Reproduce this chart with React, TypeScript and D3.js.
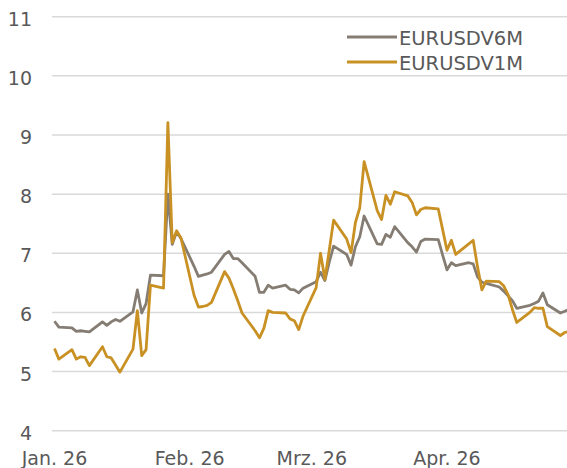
import React from "react";
import * as d3 from "d3";

const dates: string[] = [
  "2026-01-01","2026-01-02","2026-01-05","2026-01-06","2026-01-07","2026-01-08","2026-01-09",
  "2026-01-12","2026-01-13","2026-01-14","2026-01-15","2026-01-16",
  "2026-01-19","2026-01-20","2026-01-21","2026-01-22","2026-01-23",
  "2026-01-26","2026-01-27","2026-01-28","2026-01-29","2026-01-30",
  "2026-02-02","2026-02-03","2026-02-04","2026-02-05","2026-02-06",
  "2026-02-09","2026-02-10","2026-02-11","2026-02-12","2026-02-13",
  "2026-02-16","2026-02-17","2026-02-18","2026-02-19","2026-02-20",
  "2026-02-23","2026-02-24","2026-02-25","2026-02-26","2026-02-27",
  "2026-03-02","2026-03-03","2026-03-04","2026-03-05","2026-03-06",
  "2026-03-09","2026-03-10","2026-03-11","2026-03-12","2026-03-13",
  "2026-03-16","2026-03-17","2026-03-18","2026-03-19","2026-03-20",
  "2026-03-23","2026-03-24","2026-03-25","2026-03-26","2026-03-27",
  "2026-03-30","2026-03-31","2026-04-01","2026-04-02","2026-04-03",
  "2026-04-06","2026-04-07","2026-04-08","2026-04-09","2026-04-10",
  "2026-04-13","2026-04-14","2026-04-15","2026-04-16","2026-04-17",
  "2026-04-20","2026-04-21","2026-04-22","2026-04-23","2026-04-24",
  "2026-04-27","2026-04-28","2026-04-29",
];

const eurusdv6m: number[] = [
  5.85, 5.75, 5.74, 5.68, 5.69, 5.68, 5.67,
  5.84, 5.78, 5.84, 5.88, 5.85,
  6.01, 6.38, 5.99, 6.15, 6.63,
  6.62, 8.0, 7.15, 7.36, 7.25,
  6.78, 6.61, 6.63, 6.65, 6.68,
  6.98, 7.03, 6.91, 6.91, 6.84,
  6.61, 6.34, 6.34, 6.46, 6.41,
  6.46, 6.39, 6.38, 6.33, 6.41,
  6.52, 6.68, 6.54, 6.85, 7.12,
  6.98, 6.80, 7.11, 7.28, 7.63,
  7.16, 7.15, 7.32, 7.27, 7.45,
  7.18, 7.11, 7.02, 7.20, 7.24,
  7.23, 6.97, 6.72, 6.84, 6.79,
  6.84, 6.82, 6.60, 6.51, 6.49,
  6.43, 6.36, 6.28, 6.20, 6.07,
  6.12, 6.15, 6.19, 6.33, 6.13,
  5.99, 6.02, 6.05,
];

const eurusdv1m: number[] = [
  5.39, 5.21, 5.37, 5.21, 5.25, 5.24, 5.10,
  5.42, 5.25, 5.23, 5.11, 4.99,
  5.38, 6.03, 5.27, 5.37, 6.46,
  6.41, 9.21, 7.18, 7.38, 7.26,
  6.29, 6.09, 6.10, 6.12, 6.17,
  6.69, 6.58, 6.40, 6.20, 5.99,
  5.69, 5.57, 5.73, 6.03, 6.00,
  5.99, 5.89, 5.86, 5.71, 5.94,
  6.42, 7.0, 6.56, 7.05, 7.56,
  7.24, 7.01, 7.52, 7.77, 8.55,
  7.72, 7.57, 7.98, 7.83, 8.04,
  7.97, 7.86, 7.65, 7.74, 7.77,
  7.75, 7.40, 7.05, 7.22, 6.98,
  7.16, 7.22, 6.77, 6.38, 6.53,
  6.52, 6.45, 6.30, 6.05, 5.83,
  6.00, 6.08, 6.07, 6.07, 5.76,
  5.61, 5.66, 5.68,
];

const yTicks: number[] = [4, 5, 6, 7, 8, 9, 10, 11];
const xTickDates: string[] = ["2026-01-01", "2026-02-01", "2026-03-01", "2026-04-01"];
const xTickLabels: string[] = ["Jan. 26", "Feb. 26", "Mrz. 26", "Apr. 26"];

const seriesNames: string[] = ["EURUSDV6M", "EURUSDV1M"];
const seriesColors: string[] = ["#857d73", "#c99124"];

const W = 567;
const H = 468;

export default function App() {
  const parse = d3.timeParse("%Y-%m-%d");
  const x = d3
    .scaleTime()
    .domain([parse("2026-01-01")!, parse("2026-04-01")!])
    .range([54.5, 447]);
  const y = d3.scaleLinear().domain([4, 11]).range([430.7, 16.7]);

  const parsed = dates.map((d) => parse(d)!);
  const series = [eurusdv6m, eurusdv1m];
  const line = d3
    .line<number>()
    .x((_, i) => x(parsed[i]))
    .y((v) => y(v));

  const font = "'DejaVu Sans', sans-serif";
  const textColor = "#595959";

  return (
    <svg
      width={W}
      height={H}
      style={{ position: "absolute", left: 0, top: 0, background: "#fff" }}
    >
      <defs>
        <clipPath id="plotclip">
          <rect x={0} y={0} width={W} height={H} />
        </clipPath>
      </defs>
      {yTicks.map((t) => (
        <g key={t}>
          <line x1={52} x2={W} y1={y(t)} y2={y(t)} stroke="#d9d9d9" strokeWidth={1.5} />
          <text
            x={32}
            y={y(t) + 9}
            textAnchor="end"
            fontFamily={font}
            fontSize={19}
            fill={textColor}
          >
            {t}
          </text>
        </g>
      ))}
      {xTickDates.map((d, i) => (
        <text
          key={d}
          x={x(parse(d)!)}
          y={464.5}
          textAnchor="middle"
          fontFamily={font}
          fontSize={19}
          fill={textColor}
        >
          {xTickLabels[i]}
        </text>
      ))}
      <g clipPath="url(#plotclip)">
        {series.map((s, i) => (
          <path
            key={seriesNames[i]}
            d={line(s) || ""}
            fill="none"
            stroke={seriesColors[i]}
            strokeWidth={2.8}
            strokeLinejoin="round"
          />
        ))}
      </g>
      {seriesNames.map((n, i) => (
        <g key={n}>
          <line
            x1={347}
            x2={397}
            y1={37 + i * 25}
            y2={37 + i * 25}
            stroke={seriesColors[i]}
            strokeWidth={3}
          />
          <text
            x={399}
            y={37 + i * 25 + 7.5}
            fontFamily={font}
            fontSize={19.5}
            fill={textColor}
          >
            {n}
          </text>
        </g>
      ))}
    </svg>
  );
}
